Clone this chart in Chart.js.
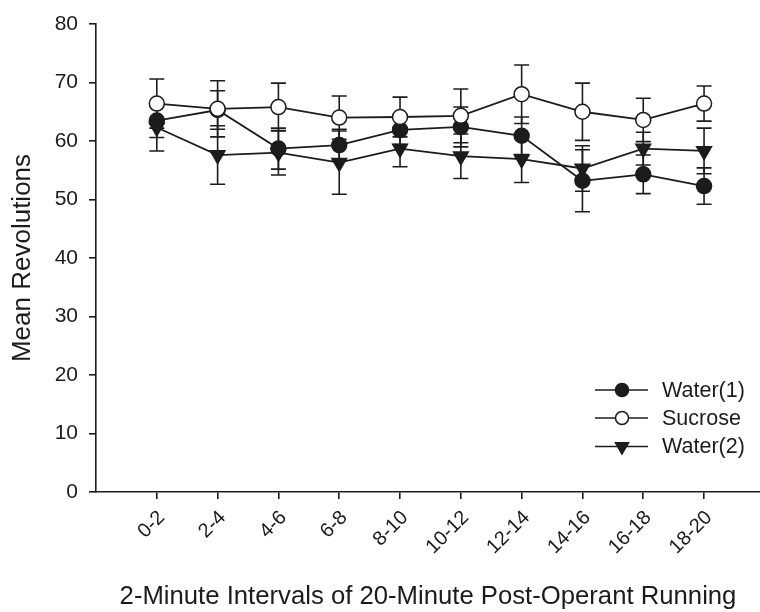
<!DOCTYPE html>
<html>
<head>
<meta charset="utf-8">
<title>Mean Revolutions</title>
<script src="https://cdn.jsdelivr.net/npm/chart.js@4/dist/chart.umd.min.js"></script>
<style>
  html, body { margin: 0; padding: 0; background: #fff; }
  #wrap { width: 760px; height: 612px; }
</style>
</head>
<body>
<div id="wrap"><canvas id="chart" width="760" height="612"></canvas></div>
<script>
const labels = ["0-2", "2-4", "4-6", "6-8", "8-10", "10-12", "12-14", "14-16", "16-18", "18-20"];

const water1 = [63.5, 65.3, 58.7, 59.3, 61.9, 62.4, 60.9, 53.2, 54.3, 52.3];
const sucrose = [66.4, 65.5, 65.8, 64.0, 64.1, 64.3, 68.0, 65.0, 63.6, 66.4];
const water2 = [62.3, 57.6, 58.0, 56.3, 58.7, 57.4, 56.9, 55.3, 58.7, 58.3];

// standard error
const water1Err = [2.9, 3.3, 3.5, 2.7, 2.5, 3.4, 3.2, 5.3, 3.3, 3.1];
const sucroseErr = [4.2, 4.8, 4.1, 3.7, 3.4, 4.6, 5.0, 4.9, 3.7, 3.0];
const water2Err = [4.0, 5.0, 3.8, 5.4, 3.1, 3.8, 4.0, 3.9, 2.8, 3.9];

const yTicks = [0, 10, 20, 30, 40, 50, 60, 70, 80];

const INK = "#1c1c1c";
const FONT = "'Liberation Sans', Arial, sans-serif";

const toPoints = (vals) => vals.map((v, i) => ({ x: i, y: v }));

const series = [
  { label: "Water(1)", data: water1, err: water1Err, style: "circle", fill: INK, radius: 7.5, rotation: 0, order: 1 },
  { label: "Sucrose", data: sucrose, err: sucroseErr, style: "circle", fill: "#ffffff", radius: 7.5, rotation: 0, order: 0 },
  { label: "Water(2)", data: water2, err: water2Err, style: "triangle", fill: INK, radius: 8.5, rotation: 180, order: 2 },
];

// vertical error bars with caps, drawn under the markers
const errorBars = {
  id: "errorBars",
  beforeDatasetsDraw(chart) {
    const ctx = chart.ctx;
    const xs = chart.scales.x;
    const ys = chart.scales.y;
    ctx.save();
    ctx.strokeStyle = INK;
    ctx.lineWidth = 1.6;
    chart.data.datasets.forEach((ds) => {
      ds.data.forEach((p, i) => {
        const e = ds.errors[i];
        const px = xs.getPixelForValue(p.x);
        const top = ys.getPixelForValue(p.y + e);
        const bot = ys.getPixelForValue(p.y - e);
        ctx.beginPath();
        ctx.moveTo(px, top);
        ctx.lineTo(px, bot);
        ctx.moveTo(px - 7.5, top);
        ctx.lineTo(px + 7.5, top);
        ctx.moveTo(px - 7.5, bot);
        ctx.lineTo(px + 7.5, bot);
        ctx.stroke();
      });
    });
    ctx.restore();
  },
};

// legend in the lower right of the plot, line + symbol + name
const lineLegend = {
  id: "lineLegend",
  afterDraw(chart) {
    const ctx = chart.ctx;
    const x0 = 595, x1 = 648, tx = 662;
    const rows = [390, 418, 446.5];
    ctx.save();
    ctx.font = "21.5px " + FONT;
    ctx.textBaseline = "middle";
    ctx.textAlign = "left";
    series.forEach((s, k) => {
      const y = rows[k];
      ctx.strokeStyle = INK;
      ctx.lineWidth = 1.6;
      ctx.beginPath();
      ctx.moveTo(x0, y);
      ctx.lineTo(x1, y);
      ctx.stroke();
      ctx.fillStyle = s.fill;
      ctx.lineWidth = 1.5;
      Chart.helpers.drawPoint(ctx, {
        pointStyle: s.style,
        rotation: s.rotation,
        radius: s.radius - 1,
        borderWidth: 1.5,
      }, 622, y);
      ctx.fillStyle = INK;
      ctx.fillText(s.label, tx, y + 1);
    });
    ctx.restore();
  },
};

const data = {
  datasets: series.map((s) => ({
    label: s.label,
    data: toPoints(s.data),
    errors: s.err,
    order: s.order,
    borderColor: INK,
    borderWidth: 1.8,
    pointStyle: s.style,
    pointRotation: s.rotation,
    pointRadius: s.radius,
    pointBackgroundColor: s.fill,
    pointBorderColor: INK,
    pointBorderWidth: 1.5,
    tension: 0,
    fill: false,
  })),
};

const config = {
  type: "line",
  data: data,
  options: {
    responsive: false,
    animation: false,
    layout: { autoPadding: false, padding: { top: 24, right: 0, bottom: 0, left: 0 } },
    plugins: {
      legend: { display: false },
      tooltip: { enabled: false },
    },
    scales: {
      x: {
        type: "linear",
        min: -1,
        max: 9.92,
        afterBuildTicks: (axis) => {
          axis.ticks = labels.map((_, i) => ({ value: i }));
        },
        afterFit: (axis) => {
          axis.height = 120;
          axis.paddingLeft = 0;
          axis.paddingRight = 0;
        },
        border: { display: true, color: INK, width: 1.6 },
        grid: { display: true, drawOnChartArea: false, drawTicks: true, tickLength: 7, color: INK, lineWidth: 1.6 },
        ticks: {
          autoSkip: false,
          minRotation: 45,
          maxRotation: 45,
          padding: 7,
          labelOffset: 5,
          color: INK,
          font: { family: FONT, size: 20 },
          callback: (v) => labels[v],
        },
        title: {
          display: true,
          text: "2-Minute Intervals of 20-Minute Post-Operant Running",
          color: INK,
          font: { family: FONT, size: 25.7 },
          padding: { top: 0, bottom: 0 },
        },
      },
      y: {
        min: 0,
        max: 80,
        afterBuildTicks: (axis) => {
          axis.ticks = yTicks.map((v) => ({ value: v }));
        },
        afterFit: (axis) => {
          axis.width = 96;
        },
        border: { display: true, color: INK, width: 1.6 },
        grid: { display: true, drawOnChartArea: false, drawTicks: true, tickLength: 7, color: INK, lineWidth: 1.6 },
        ticks: {
          padding: 11,
          color: INK,
          font: { family: FONT, size: 21 },
        },
        title: {
          display: true,
          text: "Mean Revolutions",
          color: INK,
          font: { family: FONT, size: 26 },
          padding: { top: 7, bottom: 0 },
        },
      },
    },
  },
  plugins: [errorBars, lineLegend],
};

new Chart(document.getElementById("chart"), config);
</script>
</body>
</html>
